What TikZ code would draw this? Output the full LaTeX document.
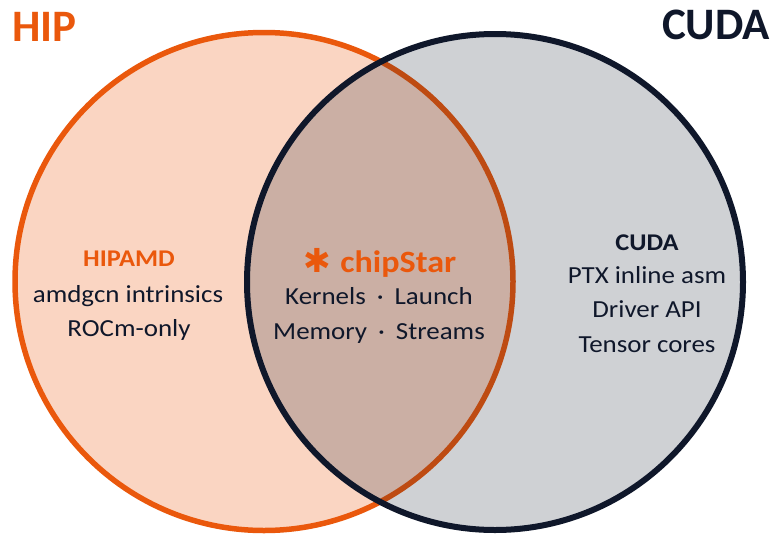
\documentclass[tikz,border=0pt]{standalone}
\usepackage{fontspec}
\setmainfont{Carlito}
\newfontfamily\widefont[FakeStretch=1.1]{Carlito}
\newfontfamily\symfont{DejaVu Sans}
\definecolor{hiporange}{HTML}{EA580C}
\definecolor{cudanavy}{HTML}{0F172A}
\begin{document}
\begin{tikzpicture}[x=1pt,y=-1pt,
  title/.style={font=\fontsize{45}{50}\selectfont\bfseries, anchor=base},
  body/.style={font=\widefont\fontsize{24.5}{28}\selectfont, text=cudanavy, anchor=base},
  head/.style={font=\widefont\fontsize{24}{28}\selectfont\bfseries, anchor=base}]
\useasboundingbox (0,0) rectangle (774,536);
\node[circle, minimum size=498pt, inner sep=0pt, draw=hiporange, line width=5.5pt,
  fill=hiporange, fill opacity=0.25, draw opacity=1] (hip) at (264,281.5) {};
\node[circle, minimum size=496pt, inner sep=0pt, draw=cudanavy, line width=6pt,
  fill=cudanavy, fill opacity=0.2, draw opacity=1] (cuda) at (495,282) {};
\node[title, text=hiporange, anchor=base west, inner sep=0pt] (hiptitle) at (12,41) {HIP};
\node[title, text=cudanavy, anchor=base east, inner sep=0pt] (cudatitle) at (770,39) {CUDA};
% left
\node[head, text=hiporange] (hipamd) at (129,266) {HIPAMD};
\node[body] (amdgcn) at (128,302) {amdgcn intrinsics};
\node[body] (rocm) at (129,336) {ROCm-only};
% middle
\node[font=\widefont\fontsize{31}{34}\selectfont\bfseries, text=hiporange, anchor=base] (chip) at (380,272) {{\symfont\fontsize{33}{34}\selectfont ✱}\hspace{9pt}chipStar};
\node[body] (kern) at (379,304) {Kernels\hspace{11pt}·\hspace{11pt}Launch};
\node[body] (mem) at (379,339) {Memory\hspace{11pt}·\hspace{11pt}Streams};
% right
\node[head, text=cudanavy] (cudahead) at (647,250) {CUDA};
\node[body] (ptx) at (647,283) {PTX inline asm};
\node[body] (drv) at (647,317) {Driver API};
\node[body] (tens) at (647,352) {Tensor cores};
\end{tikzpicture}
\end{document}
